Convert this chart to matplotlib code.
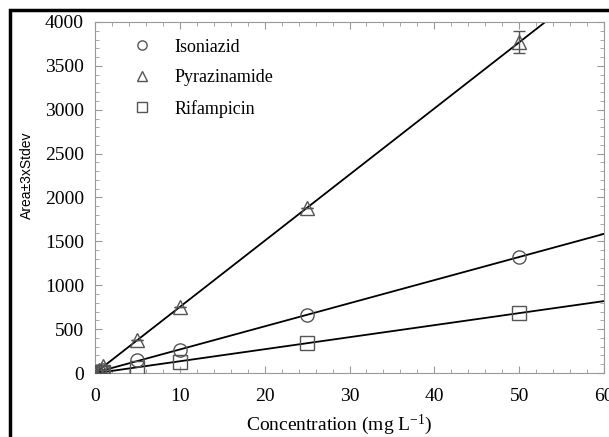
import numpy as np
import matplotlib
matplotlib.use('Agg')
import matplotlib.pyplot as plt
import matplotlib.patches as patches
from matplotlib.ticker import MultipleLocator


plt.rc('font', family='Liberation Serif')
plt.rc('mathtext', fontset='custom', rm='Liberation Serif', it='Liberation Serif')

# concentrations (mg/L) and peak areas
conc = [0, 0.5, 1, 5, 10, 25, 50]
isoniazid = [0, 15, 30, 150, 265, 662, 1322]
pyrazinamide = [0, 35, 75, 378, 752, 1880, 3770]
rifampicin = [0, 8, 15, 57, 128, 340, 684]
pyr_err = [0, 0, 0, 0, 0, 0, 125]

series = [
    ('Isoniazid', isoniazid, 'o', None),
    ('Pyrazinamide', pyrazinamide, '^', pyr_err),
    ('Rifampicin', rifampicin, 's', None),
]

fig = plt.figure(figsize=(6.09, 4.37), dpi=100)
ax = fig.add_axes([95/609, 1 - 373/437, (604-95)/609, (373-22)/437])

xfit = np.linspace(0, 60, 50)
for name, vals, mk, err in series:
    slope, icpt = np.polyfit(conc, vals, 1)
    ax.plot(xfit, slope*xfit + icpt, color='black', linewidth=1.3, zorder=2)
    if err is not None:
        ax.errorbar(conc, vals, yerr=err, fmt='none', ecolor='#555555',
                    elinewidth=1, capsize=4, zorder=3)
    ax.plot(conc, vals, linestyle='none', marker=mk, markersize=9.5,
            markerfacecolor='none', markeredgecolor='#555555',
            markeredgewidth=1, label=name, zorder=3)

ax.set_xlim(0, 60)
ax.set_ylim(0, 4000)
ax.xaxis.set_major_locator(MultipleLocator(10))
ax.xaxis.set_minor_locator(MultipleLocator(2))
ax.yaxis.set_major_locator(MultipleLocator(500))
ax.yaxis.set_minor_locator(MultipleLocator(100))
ax.tick_params(which='both', direction='in', top=True, right=True,
               color='#999999', labelsize=14)
ax.tick_params(which='major', length=5)
ax.tick_params(which='minor', length=3)
ax.tick_params(axis='x', pad=11)
ax.tick_params(axis='y', pad=8)
for s in ax.spines.values():
    s.set_color('#999999')

ax.set_xlabel('Concentration (mg L$^{-1}$)', fontsize=14)
ax.xaxis.set_label_coords((339-95)/509, -(413-373)/351, transform=ax.transAxes)
ax.set_ylabel('Area\u00b13xStdev', fontsize=10, family='Liberation Sans')
ax.yaxis.set_label_coords(-(95-34)/509, (373-175)/351, transform=ax.transAxes)

ax.legend(loc='upper left', frameon=False, fontsize=13, handletextpad=0.8,
          labelspacing=0.75, markerscale=0.7, bbox_to_anchor=(0.024, 0.9985))

# black frame around the figure image
fig.patches.append(patches.Rectangle((10/609, -0.1), 1.2, 1 - 10/437 + 0.1,
                                     transform=fig.transFigure, fill=False,
                                     edgecolor='black', linewidth=2.5))

fig.savefig('out.png', dpi=100)
